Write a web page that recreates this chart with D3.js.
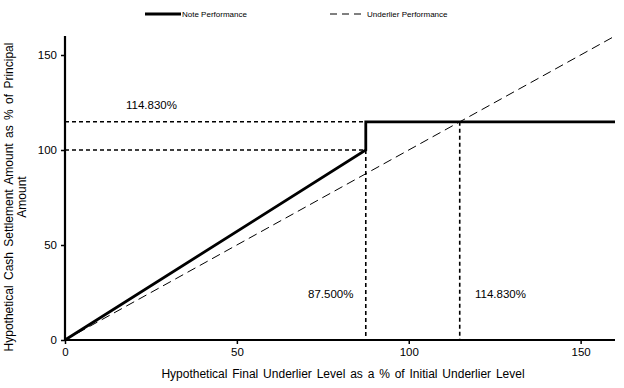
<!DOCTYPE html>
<html><head><meta charset="utf-8">
<script src="https://cdn.jsdelivr.net/npm/d3@7"></script>
<style>body{margin:0;background:#fff}svg{display:block}text{font-family:"Liberation Sans",Arial,sans-serif;fill:#000}</style>
</head><body><svg id="c" width="624" height="388"></svg>
<script>
const xTicks = [0, 50, 100, 150];
const yTicks = [0, 50, 100, 150];
const notePerf = [[0, 0], [87.5, 100], [87.5, 114.83], [160, 114.83]];
const underlierPerf = [[0, 0], [160, 160]];
const buffer = 87.5;
const cap = 114.83;
const capLabel = "114.830%";
const bufferLabel = "87.500%";
const seriesNames = ["Note Performance", "Underlier Performance"];

const svg = d3.select("#c");
const x = d3.scaleLinear().domain([0, 160]).range([65, 615]);
const y = d3.scaleLinear().domain([0, 160]).range([340, 36]);

// reference dashed lines
const ref = svg.append("g").attr("stroke", "#000").attr("stroke-width", 1.6).attr("stroke-dasharray", "4,3").attr("fill", "none");
ref.append("line").attr("x1", x(0)).attr("x2", x(buffer)).attr("y1", y(100)).attr("y2", y(100));
ref.append("line").attr("x1", x(0)).attr("x2", x(buffer)).attr("y1", y(cap)).attr("y2", y(cap));
ref.append("line").attr("x1", x(buffer)).attr("x2", x(buffer)).attr("y1", y(100)).attr("y2", y(0));
ref.append("line").attr("x1", x(cap)).attr("x2", x(cap)).attr("y1", y(cap)).attr("y2", y(0));

const line = d3.line().x(d => x(d[0])).y(d => y(d[1]));
svg.append("path").datum(underlierPerf).attr("d", line).attr("fill", "none").attr("stroke", "#000").attr("stroke-width", 1).attr("stroke-dasharray", "9,5");
svg.append("path").datum(notePerf).attr("d", line).attr("fill", "none").attr("stroke", "#000").attr("stroke-width", 2.8);

// axes
const xa = svg.append("g").attr("transform", `translate(0,${y(0)})`).call(d3.axisBottom(x).tickValues(xTicks).tickSize(4).tickPadding(4));
const ya = svg.append("g").attr("transform", `translate(${x(0)},0)`).call(d3.axisLeft(y).tickValues(yTicks).tickSize(4).tickPadding(4));
[xa, ya].forEach(a => {
  a.select(".domain").attr("stroke-width", 2.2).attr("stroke", "#000");
  a.selectAll(".tick line").attr("stroke-width", 1.5).attr("stroke", "#000");
  a.selectAll("text").style("font-size", "11.5px").attr("fill", "#000");
});
xa.select(".domain").attr("d", `M${x(0)},0H${x(160)}`);
ya.select(".domain").attr("d", `M0,${y(0)}V${y(160)}`);

// annotations
svg.append("text").attr("x", 126).attr("y", 109).style("font-size", "11.5px").text(capLabel);
svg.append("text").attr("x", 308).attr("y", 298).style("font-size", "11.5px").text(bufferLabel);
svg.append("text").attr("x", 475).attr("y", 298).style("font-size", "11.5px").text(capLabel);

// axis titles
svg.append("text").attr("x", 343).attr("y", 378).attr("text-anchor", "middle").style("font-size", "12px").style("word-spacing", "1.5px")
  .text("Hypothetical Final Underlier Level as a % of Initial Underlier Level");
const yt = svg.append("text").attr("transform", "translate(13,197) rotate(-90)").attr("text-anchor", "middle").style("font-size", "12px").style("word-spacing", "2px");
yt.append("tspan").attr("x", 0).attr("y", 0).text("Hypothetical Cash Settlement Amount as % of Principal");
yt.append("tspan").attr("x", 0).attr("y", 13).text("Amount");

// legend
const lg = svg.append("g");
lg.append("line").attr("x1", 145).attr("x2", 181).attr("y1", 14).attr("y2", 14).attr("stroke", "#000").attr("stroke-width", 2.8);
lg.append("text").attr("x", 182).attr("y", 17).style("font-size", "8px").text(seriesNames[0]);
lg.append("line").attr("x1", 330).attr("x2", 366).attr("y1", 14).attr("y2", 14).attr("stroke", "#000").attr("stroke-width", 1).attr("stroke-dasharray", "7,5");
lg.append("text").attr("x", 367).attr("y", 17).style("font-size", "8px").text(seriesNames[1]);
</script></body></html>
